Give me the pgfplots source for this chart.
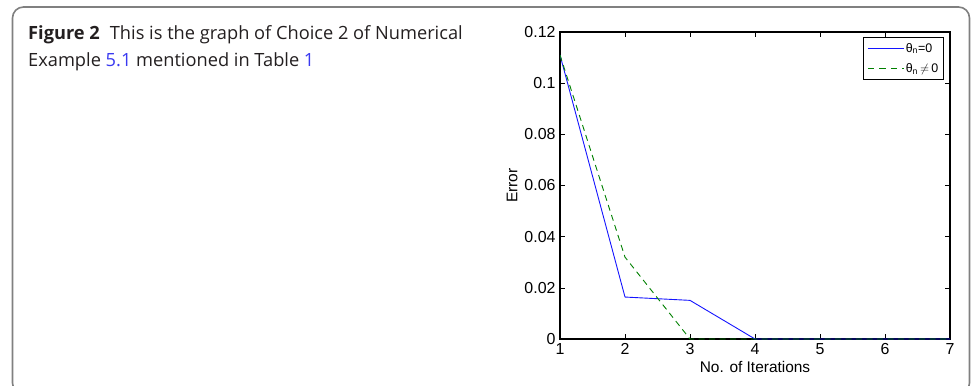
\documentclass[border=0pt]{standalone}
\usepackage{fontspec}
\setmainfont{Liberation Sans}
\newfontfamily\capfont{Open Sans}
\usepackage{pgfplots}
\pgfplotsset{compat=1.18}
\definecolor{capgray}{HTML}{231F20}
\definecolor{linkblue}{HTML}{3A3AF0}
\definecolor{framegray}{HTML}{808080}
\definecolor{mblue}{RGB}{20,20,255}
\definecolor{mgreen}{RGB}{0,128,0}
\begin{document}
\begin{tikzpicture}
\useasboundingbox (0,-386bp) rectangle (973bp,0);
\draw[framegray, line width=1.6bp, rounded corners=11bp] (12.5bp,-394bp) rectangle (969.5bp,-7bp);
\node[anchor=base west, inner sep=0, font=\capfont\fontsize{18.3}{22}\selectfont, text=capgray] at (28bp,-39.3bp) {\textbf{Figure 2}\hspace{0.55em}This is the graph of Choice 2 of Numerical};
\node[anchor=base west, inner sep=0, font=\capfont\fontsize{18.3}{22}\selectfont, text=capgray] at (28bp,-66.7bp) {Example \textcolor{linkblue}{5.1} mentioned in Table \textcolor{linkblue}{1}};
\begin{axis}[
  at={(560bp,-339bp)}, anchor=south west,
  scale only axis, width=390bp, height=307bp,
  xmin=1, xmax=7, ymin=0, ymax=0.12,
  xtick={1,2,3,4,5,6,7},
  ytick={0,0.02,0.04,0.06,0.08,0.1,0.12},
  scaled y ticks=false,
  yticklabel style={/pgf/number format/fixed, /pgf/number format/precision=2, xshift=-1bp},
  xticklabel style={yshift=-1bp},
  /pgf/number format/assume math mode=true,
  tick label style={font=\fontsize{16}{18}\selectfont},
  label style={font=\fontsize{15.5}{18}\selectfont},
  xlabel={No. of Iterations},
  ylabel={Error},
  axis line style={line width=1.1bp},
  tick style={black, line width=0.6bp},
  major tick length=5bp,
  legend style={at={(0.9855,0.984)}, anchor=north east, line width=1.3bp,
    font=\fontsize{12.5}{14}\selectfont, inner xsep=4bp, inner ysep=4bp, row sep=7bp,
    nodes={inner sep=1.5bp}},
  legend cell align=left,
]
\addplot[color=mblue, line width=0.9bp,
  legend image code/.code={\draw[mblue, line width=0.9bp, solid] (0bp,0bp) -- (36bp,0bp);}]
  coordinates {(1,0.111)(2,0.0164)(3,0.0151)(4,0)(5,0)(6,0)(7,0)};
\addlegendentry{θ\textsubscript{n}=0}
\addplot[color=mgreen, dash pattern=on 6bp off 4.5bp, line width=0.9bp,
  legend image code/.code={\draw[mgreen, line width=0.9bp, dash pattern=on 6.5bp off 5bp] (0bp,0bp) -- (36bp,0bp);}]
  coordinates {(1,0.111)(2,0.032)(3,0)(4,0)(5,0)(6,0)(7,0)};
\addlegendentry{θ\textsubscript{n}\,$\neq$\,0}
\end{axis}
\end{tikzpicture}
\end{document}
